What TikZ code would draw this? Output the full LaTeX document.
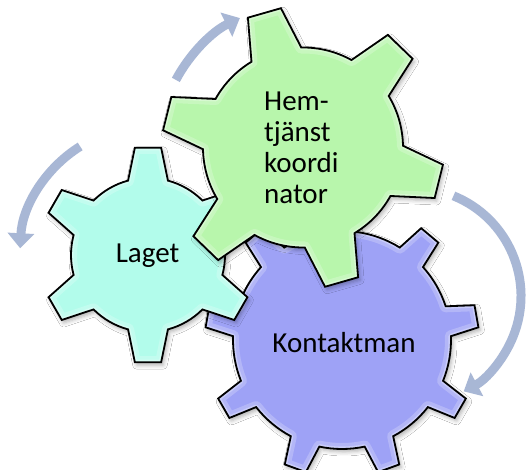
\documentclass[tikz,border=0pt]{standalone}
\usepackage{fontspec}
\setmainfont{Carlito}
\usetikzlibrary{arrows.meta,shadows.blur}

\definecolor{gearGreen}{RGB}{184,246,172}
\definecolor{gearCyan}{RGB}{178,252,235}
\definecolor{gearBlue}{RGB}{158,162,246}
\definecolor{cycleArrow}{RGB}{168,183,213}

% Outline of a gear: #1 centre, #2 number of teeth, #3 tip radius,
% #4 root radius, #5 angle of the first tooth, #6 tip half-angle,
% #7 base half-angle
\newcommand\gearpath[7]{%
  ([shift={(#1)}]{#5-#7}:#4)
  \foreach \k [evaluate=\k as \t using #5+(\k-1)*360/#2] in {1,...,#2}{
    -- ([shift={(#1)}]{\t-#6}:#3)
    -- ([shift={(#1)}]{\t+#6}:#3)
    -- ([shift={(#1)}]{\t+#7}:#4)
    arc[start angle={\t+#7}, end angle={\t+360/#2-#7}, radius=#4]
  } -- cycle}

% Filled gear with a soft shadow, a light bevel rim and a black outline
\newcommand\drawgear[8]{%
  \fill[#8, blur shadow={shadow xshift=2pt, shadow yshift=-3pt,
        shadow blur radius=4pt, shadow opacity=30}]
    \gearpath{#1}{#2}{#3}{#4}{#5}{#6}{#7};
  \begin{scope}
    \clip \gearpath{#1}{#2}{#3}{#4}{#5}{#6}{#7};
    \draw[white, opacity=.22, line width=12pt, line join=round]
      \gearpath{#1}{#2}{#3}{#4}{#5}{#6}{#7};
    \draw[white, opacity=.30, line width=5pt, line join=round]
      \gearpath{#1}{#2}{#3}{#4}{#5}{#6}{#7};
  \end{scope}
  \draw[gearline] \gearpath{#1}{#2}{#3}{#4}{#5}{#6}{#7};
}

\begin{document}
\begin{tikzpicture}[x=1pt, y=1pt,
  gearline/.style={draw=black, line width=1.8pt, line join=miter},
  cyclearrow/.style={draw=cycleArrow, line width=9pt,
    -{Triangle[width=26pt, length=15pt]}},
  lbl/.style={font=\fontsize{29}{31}\selectfont, inner sep=0pt, text=black}]

  \fill[white] (0,0) rectangle (528,470);
  \useasboundingbox (0,0) rectangle (528,470);

  % gear centres
  \coordinate (gK) at (342,130);
  \coordinate (gL) at (148,215);
  \coordinate (gH) at (303,322.5);
  \coordinate (gR) at (413,174);

  % circular arrows
  \draw[cyclearrow] ([shift={(152:144)}]gH) arc[start angle=152, end angle=116, radius=144];
  \draw[cyclearrow] ([shift={(122:128)}]gL) arc[start angle=122, end angle=177, radius=128];
  \draw[cyclearrow] ([shift={(68:108)}]gR) arc[start angle=68, end angle=-62, radius=108];

  % gears, back to front
  \drawgear{gK}{9}{137}{109}{90}{4.7}{8}{gearBlue}
  \drawgear{gL}{6}{108}{77}{90}{7}{15}{gearCyan}
  \drawgear{gH}{6}{141}{100}{106}{7}{15}{gearGreen}

  % labels
  \node[lbl, anchor=base] (laget) at (147.5,207) {Laget};
  \node[lbl, anchor=base] (kontakt) at (344,117) {Kontaktman};
  \node[lbl, anchor=base west, align=left] (hem) at (264,266.5)
    {Hem-\\tjänst\\koordi\\nator};
\end{tikzpicture}
\end{document}
